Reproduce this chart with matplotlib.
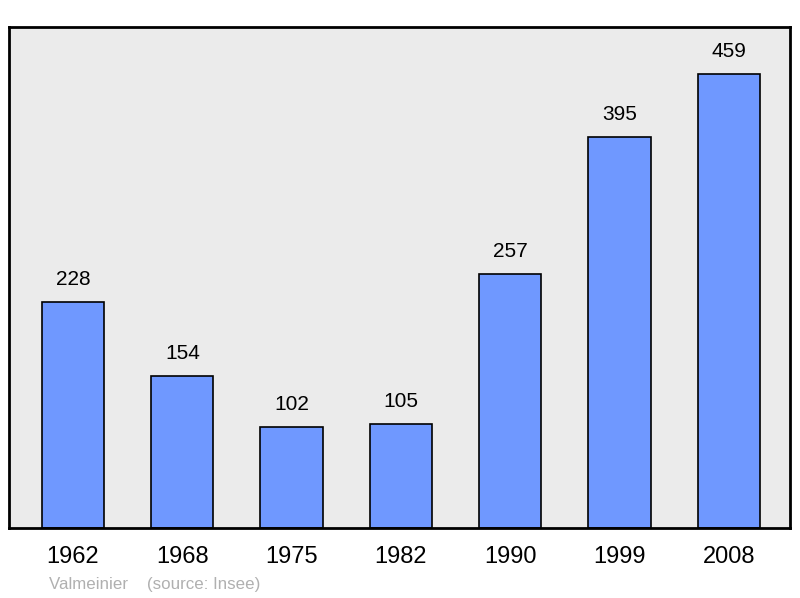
import matplotlib.pyplot as plt

plt.rcParams['font.family'] = ['Liberation Sans', 'DejaVu Sans']

years = ['1962', '1968', '1975', '1982', '1990', '1999', '2008']
population = [228, 154, 102, 105, 257, 395, 459]

fig = plt.figure(figsize=(8, 5.98), dpi=100)
ax = fig.add_axes([9 / 800, 70 / 598, 781 / 800, 501 / 598])
ax.set_facecolor('#ebebeb')

x = range(len(years))
ax.bar(x, population, width=0.57, color='#6f98ff', edgecolor='black', linewidth=1.2, zorder=2)
for i, v in zip(x, population):
    ax.text(i, v + 13, str(v), ha='center', va='bottom', fontsize=15)

ax.set_xlim(-0.586, 6.56)
ax.set_ylim(0, 506)
ax.set_yticks([])
ax.set_xticks(list(x))
ax.set_xticklabels(years, fontsize=17)
ax.tick_params(axis='x', length=0, pad=13)
for s in ax.spines.values():
    s.set_linewidth(2)

fig.text(49 / 800, 1 - 585 / 598, 'Valmeinier    (source: Insee)', color='#b0b0b0',
         fontsize=12.2, va='center', ha='left')

fig.savefig('out.png', dpi=100)
